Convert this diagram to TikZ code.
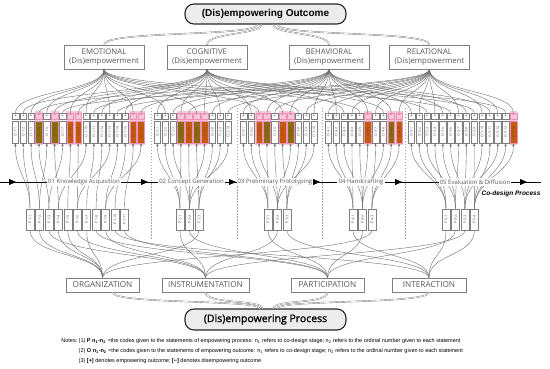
\documentclass[tikz,border=0pt]{standalone}
\usepackage{fontspec}
\usepackage{graphicx}
\setmainfont{Open Sans}
\newfontfamily\arialf{Liberation Sans}
\newfontfamily\semib[FakeBold=1.3]{Open Sans}
\usetikzlibrary{arrows.meta}
\pgfdeclarelayer{bg}
\pgfsetlayers{bg,main}
\definecolor{txtg}{HTML}{595959}
\definecolor{lineg}{HTML}{6E6E6E}
\definecolor{boxg}{HTML}{7F7F7F}
\definecolor{olivb}{HTML}{8C6A14}
\definecolor{orgb}{HTML}{C25A10}
\definecolor{pinkc}{HTML}{F8C6DA}
\definecolor{pinkd}{HTML}{EE8FB6}
\definecolor{lgray}{HTML}{ECECEC}
\def\sgng{+}
\def\sgnb{–}
\def\sgnc{–}
\tikzset{
  bigbox/.style={draw=black!85, line width=1.1pt, fill=lgray, rounded corners=9pt, minimum width=161pt, inner sep=0pt},
  ocat/.style={draw=boxg, line width=0.7pt, fill=white, text=txtg, align=center, minimum width=80pt, minimum height=24pt, inner sep=0pt, font=\fontsize{7.8}{9.6}\selectfont},
  pcat/.style={draw=boxg, line width=0.7pt, fill=white, text=txtg, minimum height=14pt, inner sep=0pt, font=\fontsize{8.2}{9}\selectfont},
  smbox/.style={draw=boxg, line width=0.4pt, fill=white, minimum width=6.6pt, minimum height=6pt, inner sep=0pt, font=\fontsize{5}{5}\selectfont, text=txtg},
  smg/.style={},
  smb/.style={fill=pinkc, draw=pinkd, text=pinkd!60!black},
  smc/.style={fill=pinkc, draw=pinkd, text=pinkd!60!black},
  obox/.style={draw=boxg, line width=0.5pt, fill=white, minimum width=6.6pt, minimum height=22pt, inner sep=0pt, font=\fontsize{3.6}{3.6}\selectfont, text=txtg},
  obg/.style={},
  obb/.style={fill=olivb, draw=pinkd, text=olivb!70!black},
  obc/.style={fill=orgb, draw=pinkd, text=orgb!70!black},
  colg/.style={},
  colb/.style={fill=pinkc},
  colc/.style={fill=pinkc},
  pbox/.style={draw=boxg, line width=0.6pt, fill=white, minimum width=8pt, minimum height=21pt, inner sep=0pt, font=\fontsize{3.8}{3.8}\selectfont, text=txtg},
  conn/.style={draw=lineg, line width=0.4pt},
  dconn/.style={draw=lineg, line width=0.35pt, double=white, double distance=0.7pt},
  arr/.style={-{Latex[length=3pt,width=2.4pt]}},
  tline/.style={draw=black, line width=0.8pt},
  tipa/.style={-{Triangle[length=7pt,width=6pt]}, draw=black, line width=0.8pt},
  stagel/.style={fill=white, inner sep=1.2pt, text=txtg, font=\fontsize{6}{7}\selectfont},
  divl/.style={draw=gray!70, line width=0.5pt, dash pattern=on 1.5pt off 1.5pt},
  notel/.style={anchor=west, inner sep=0pt, font=\arialf\fontsize{5.5}{6.5}\selectfont},
}
\begin{document}
\begin{tikzpicture}[x=1pt,y=-1pt]
\useasboundingbox (0,0) rectangle (550,369);
% ---------- outcome level ----------
\node[bigbox, minimum height=20pt, font=\arialf\bfseries\fontsize{10}{12}\selectfont] (top) at (265.5,14) {(Dis)empowering Outcome};
\node[ocat] (c1) at (104,57) {EMOTIONAL\\(Dis)empowerment};
\node[ocat] (c2) at (207,57) {COGNITIVE\\(Dis)empowerment};
\node[ocat] (c3) at (329,57) {BEHAVIORAL\\(Dis)empowerment};
\node[ocat] (c4) at (429.5,57) {RELATIONAL\\(Dis)empowerment};
\draw[dconn] (c1.north) .. controls +(0,-14) and +(0,12) .. ([xshift=-8pt]top.south);
\draw[dconn] (c2.north) .. controls +(0,-12) and +(0,10) .. ([xshift=-4pt]top.south);
\draw[dconn] (c3.north) .. controls +(0,-12) and +(0,10) .. ([xshift=8pt]top.south);
\draw[dconn] (c4.north) .. controls +(0,-14) and +(0,12) .. ([xshift=12pt]top.south);
% ---------- process level ----------
\node[pcat, minimum width=73pt] (qo) at (102.5,285) {ORGANIZATION};
\node[pcat, minimum width=87pt] (qi) at (205.5,285) {INSTRUMENTATION};
\node[pcat, minimum width=73pt] (qp) at (327.5,285) {PARTICIPATION};
\node[pcat, minimum width=74pt] (qn) at (429,285) {INTERACTION};
\node[bigbox, minimum height=21pt, font=\semib\fontsize{10.5}{12}\selectfont] (bot) at (265.5,319.5) {(Dis)empowering Process};
\draw[dconn] ([xshift=10pt]qo.south) .. controls +(0,12) and +(0,-9) .. ([xshift=-6pt]bot.north);
\draw[dconn] (qi.south) .. controls +(0,12) and +(0,-9) .. ([xshift=-3pt]bot.north);
\draw[dconn] (qp.south) .. controls +(0,12) and +(0,-9) .. ([xshift=8pt]bot.north);
\draw[dconn] (qn.south) .. controls +(0,12) and +(0,-9) .. ([xshift=12pt]bot.north);
% ---------- stage dividers ----------
\foreach \dx [count=\i] in {151,237,322,405}{
  \coordinate (dvt\i) at (\dx,108);
  \coordinate (dvb\i) at (\dx,240);
  \draw[divl] (dvt\i) -- (dvb\i);
}
% ---------- timeline ----------
\coordinate (t0) at (0,182);
\coordinate (t1) at (541,182);
\draw[tline] (t0) -- (t1);
\foreach \ax [count=\i] in {16,148,236,320,402,527}{
  \coordinate (ah\i) at (\ax,182);
  \draw[tipa] ([xshift=-5pt]ah\i) -- (ah\i);
}
\node[font=\arialf\bfseries\itshape\fontsize{6.5}{7}\selectfont, inner sep=0pt] (cdp) at (511,194) {Co-design Process};
% ---------- process statement boxes ----------
\foreach \st/\xs/\pc in {1/26/{o,o,i,o,o,i,o,p,i,n,p}, 2/176/{i,p,o}, 3/264/{p,i,n}, 4/349/{n,p,o}, 5/442/{n,p,i,n}}{
  \foreach \cc [count=\k] in \pc {
    \pgfmathsetmacro\xc{\xs+4+(\k-1)*9.45}
    \node[pbox] (p\st-\k) at (\xc,219.5) {\rotatebox{90}{P\,\st-\k}};
    \draw[conn] (p\st-\k.south) .. controls +(0,26) and +(0,-24) .. (q\cc.north);
  }
}
% ---------- outcome statement boxes ----------
\foreach \st/\xs/\bx in {
 1/12/{g/1/1,g/2/1,g/1/2,b/3/3,g/1/2,b/2/4,g/4/3,c/1/5,c/2/6,g/1/4,g/3/7,g/2/8,g/1/6,g/4/9,g/2/10,c/1/11,c/3/9},
 2/154/{g/2/1,g/1/1,g/3/2,b/2/1,c/4/2,b/1/3,c/2/2,g/3/3,g/2/3,g/4/2},
 3/240/{g/3/1,g/2/1,c/1/2,b/3/1,g/4/2,c/2/3,b/3/2,g/1/3,g/4/3,g/3/2},
 4/325/{g/4/1,g/3/1,g/2/2,g/4/1,g/1/2,c/3/2,g/4/3,g/2/2,b/3/3,c/4/3},
 5/408/{g/3/1,g/4/1,g/2/2,g/4/1,g/3/2,g/1/3,g/4/2,g/3/3,g/2/4,g/4/3,g/3/4,g/4/3,g/2/4,c/4/4}}{
  \foreach \ty/\ca/\pr [count=\k] in \bx {
    \pgfmathsetmacro\xc{\xs+3.4+(\k-1)*7.85}
    \begin{pgfonlayer}{bg}
      \path[col\ty] (\xc-3.95,111) rectangle (\xc+3.95,145);
    \end{pgfonlayer}
    \node[smbox, sm\ty] (s\st-\k) at (\xc,116) {\csname sgn\ty\endcsname};
    \node[obox, ob\ty] (o\st-\k) at (\xc,132) {\rotatebox{90}{O\,\st-\k}};
    \draw[conn] (s\st-\k.north) .. controls +(0,-22) and +(0,22) .. (c\ca.south);
    \draw[conn, arr] (p\st-\pr.north) .. controls +(0,-30) and +(0,30) .. (o\st-\k.south);
  }
}
% ---------- stage labels on the timeline ----------
\node[stagel] (st1) at (84,182) {01 Knowledge Acquisition};
\node[stagel] (st2) at (191.5,182) {02 Concept Generation};
\node[stagel] (st3) at (275,182) {03 Preliminary Prototyping};
\node[stagel] (st4) at (361,182) {04 Handcrafting};
\node[stagel] (st5) at (475,182) {05 Evaluation \& Diffusion};
% ---------- notes ----------
\node[notel, anchor=east] (nt0) at (77.5,341) {Notes:};
\node[notel] (nt1) at (78.5,341) {(1) \textbf{P n\textsubscript{1}-n\textsubscript{2}} =the codes given to the statements of empowering process: n\textsubscript{1} refers to co-design stage; n\textsubscript{2} refers to the ordinal number given to each statement};
\node[notel] (nt2) at (78.5,351) {(2) \textbf{O n\textsubscript{1}-n\textsubscript{2}} =the codes given to the statements of empowering outcome: n\textsubscript{1} refers to co-design stage; n\textsubscript{2} refers to the ordinal number given to each statement};
\node[notel] (nt3) at (78.5,361) {(3) \textbf{[+]} denotes empowering outcome; \textbf{[−]} denotes disempowering outcome};
\end{tikzpicture}
\end{document}
